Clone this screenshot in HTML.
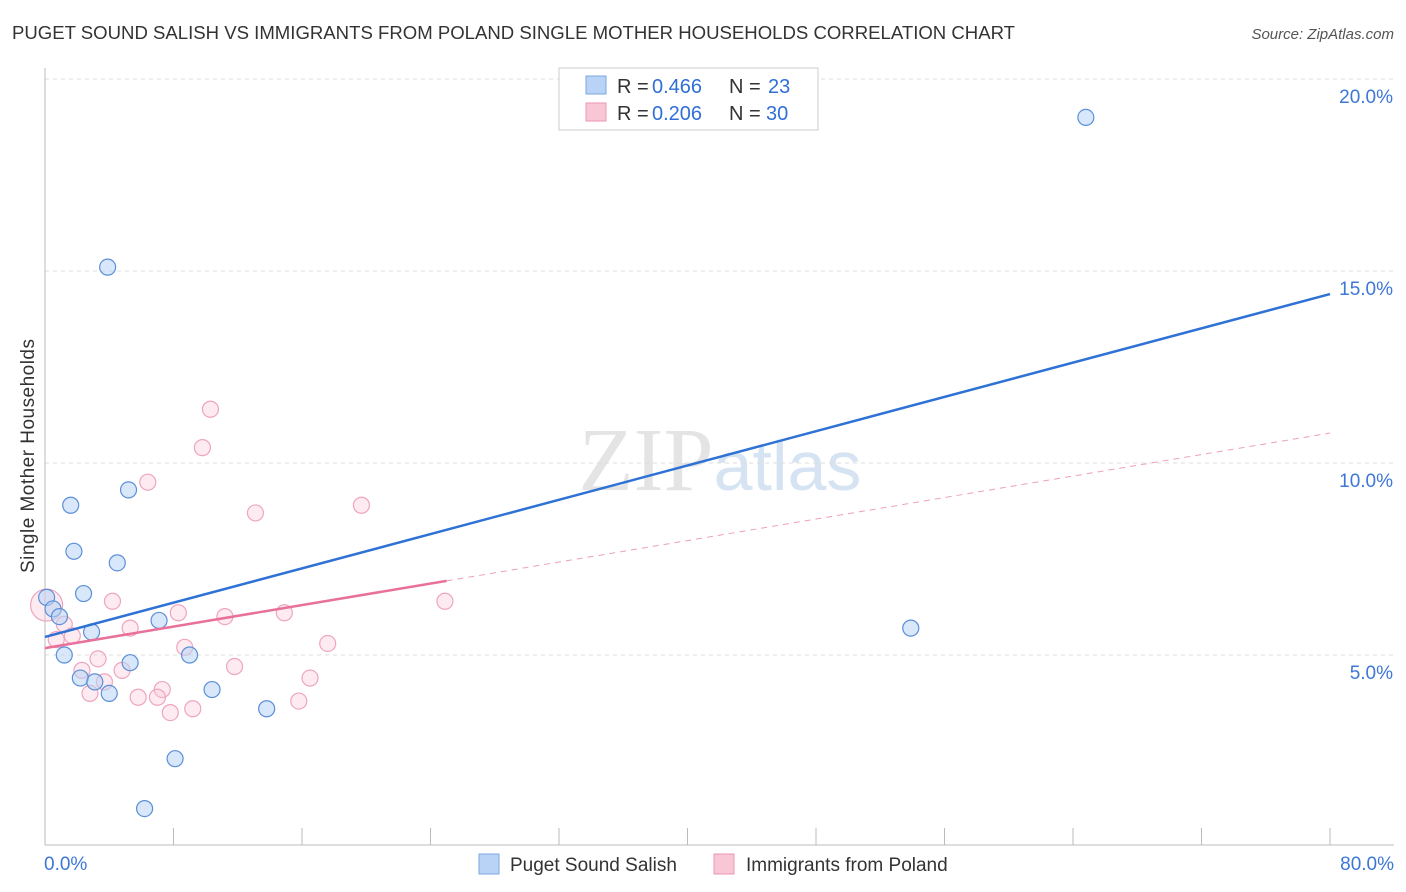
<!DOCTYPE html>
<html><head><meta charset="utf-8"><style>
body{margin:0;background:#fff;font-family:"Liberation Sans",sans-serif;}
svg{display:block}
</style></head><body>
<svg id="c" width="1406" height="892">
<text x="12" y="39" font-size="18" fill="#333" textLength="1003" lengthAdjust="spacingAndGlyphs">PUGET SOUND SALISH VS IMMIGRANTS FROM POLAND SINGLE MOTHER HOUSEHOLDS CORRELATION CHART</text>
<text x="1394" y="39" font-size="15" fill="#555" font-style="italic" text-anchor="end">Source: ZipAtlas.com</text>
<text x="34" y="456" font-size="19" fill="#333" text-anchor="middle" transform="rotate(-90 34 456)" textLength="234">Single Mother Households</text>
<text x="720" y="490" font-size="90" fill="#e4e4e4" text-anchor="middle" font-family="Liberation Serif,serif">ZIP<tspan fill="#d6e3f3" font-family="Liberation Sans,sans-serif" font-size="70">atlas</tspan></text>
<g id="grid"></g><g id="marks"></g>
<g>
<rect x="559" y="68" width="259" height="62" fill="#fff" stroke="#ccc"/>
<rect x="586" y="76" width="20" height="18" fill="#b8d3f5" stroke="#7aa8e0"/>
<rect x="586" y="103" width="20" height="18" fill="#f9c6d6" stroke="#eb95b2"/>
<text x="617" y="93" font-size="20" fill="#333">R =</text>
<text x="652" y="93" font-size="20" fill="#2f6fd6">0.466</text>
<text x="729" y="93" font-size="20" fill="#333">N =</text>
<text x="768" y="93" font-size="20" fill="#2f6fd6">23</text>
<text x="617" y="120" font-size="20" fill="#333">R =</text>
<text x="652" y="120" font-size="20" fill="#2f6fd6">0.206</text>
<text x="729" y="120" font-size="20" fill="#333">N =</text>
<text x="766" y="120" font-size="20" fill="#2f6fd6">30</text>
</g>
<g>
<rect x="479" y="854" width="20" height="20" fill="#b8d3f5" stroke="#7aa8e0"/>
<text x="510" y="871" font-size="19" fill="#333">Puget Sound Salish</text>
<rect x="714" y="854" width="20" height="20" fill="#f9c6d6" stroke="#eb95b2"/>
<text x="746" y="871" font-size="19" fill="#333">Immigrants from Poland</text>
</g>
</svg>
<script>
const yTicks=[5,10,15,20];
const xTickLabels=["0.0%","80.0%"];
const blueX=[3.9,64.8,1.6,5.2,1.8,4.5,2.4,0.1,0.5,0.9,7.1,2.9,1.2,9.0,5.3,2.2,3.1,4.0,10.4,13.8,8.1,6.2,53.9];
const blueY=[15.1,19.0,8.9,9.3,7.7,7.4,6.6,6.5,6.2,6.0,5.9,5.6,5.0,5.0,4.8,4.4,4.3,4.0,4.1,3.6,2.3,1.0,5.7];
const pinkX=[0.1,10.3,9.8,6.4,13.1,19.7,4.2,24.9,8.3,11.2,14.9,1.2,1.7,5.3,0.7,8.7,3.3,17.6,11.8,2.3,4.8,3.7,16.5,2.8,5.8,7.3,7.0,9.2,7.8,15.8];
const pinkY=[6.3,11.4,10.4,9.5,8.7,8.9,6.4,6.4,6.1,6.0,6.1,5.8,5.5,5.7,5.4,5.2,4.9,5.3,4.7,4.6,4.6,4.3,4.4,4.0,3.9,4.1,3.9,3.6,3.5,3.8];
const blueLine=[5.47,14.4];
const pinkLine=[5.18,10.78];
const pinkSolidEnd=25;
const X=v=>45+v*(1285/80), Y=v=>847-v*38.4;
const NS="http://www.w3.org/2000/svg";
const g=document.getElementById('grid'), m=document.getElementById('marks');
function el(p,t,a){const e=document.createElementNS(NS,t);for(const k in a)e.setAttribute(k,a[k]);p.appendChild(e);return e;}
yTicks.forEach(t=>{
 const l=el(g,'line',{x1:45,x2:1394,y1:Y(t),y2:Y(t),stroke:'#ddd','stroke-dasharray':'4,4'});
 
 
 const tx=el(g,'text',{x:1393,y:Y(t)+24,'font-size':19,fill:'#3d77d6','text-anchor':'end'});
 tx.textContent=t.toFixed(1)+'%';
 
 
});
const ax=el(g,'line',{x1:45,x2:45,y1:68,y2:845,stroke:'#bbb'});


const bx=el(g,'line',{x1:45,x2:1394,y1:845,y2:845,stroke:'#bbb'});


for(let i=0;i<=10;i++){const t=el(g,'line',{x1:X(i*8),x2:X(i*8),y1:828,y2:845,stroke:'#bbb'});
 
 }
[[0,'start',44],[80,'end',1394]].forEach((d,i)=>{const t=el(g,'text',{x:d[2],y:870,'font-size':19,fill:'#3d77d6','text-anchor':d[1]});t.textContent=xTickLabels[i];
 
 });
pinkX.forEach((x,i)=>{const c=el(m,'circle',{cx:X(x),cy:Y(pinkY[i]),r:i==0?16:8,fill:'rgba(249,198,214,0.35)',stroke:'#eea5bd','stroke-width':1.2});
 
 });
blueX.forEach((x,i)=>{const c=el(m,'circle',{cx:X(x),cy:Y(blueY[i]),r:8,fill:'rgba(184,211,245,0.55)',stroke:'#5b8fd8','stroke-width':1.2});
 
 });
const pv=x=>pinkLine[0]+(pinkLine[1]-pinkLine[0])*x/80;
const pl=el(m,'line',{x1:X(0),y1:Y(pinkLine[0]),x2:X(pinkSolidEnd),y2:Y(pv(pinkSolidEnd)),stroke:'#e8709a','stroke-width':2.5});


const pd=el(m,'line',{x1:X(pinkSolidEnd),y1:Y(pv(pinkSolidEnd)),x2:X(80),y2:Y(pinkLine[1]),stroke:'#eba0b9','stroke-width':1,'stroke-dasharray':'6,5'});


const bl=el(m,'line',{x1:X(0),y1:Y(blueLine[0]),x2:X(80),y2:Y(blueLine[1]),stroke:'#2f72d6','stroke-width':2.5});


</script>
</body></html>
